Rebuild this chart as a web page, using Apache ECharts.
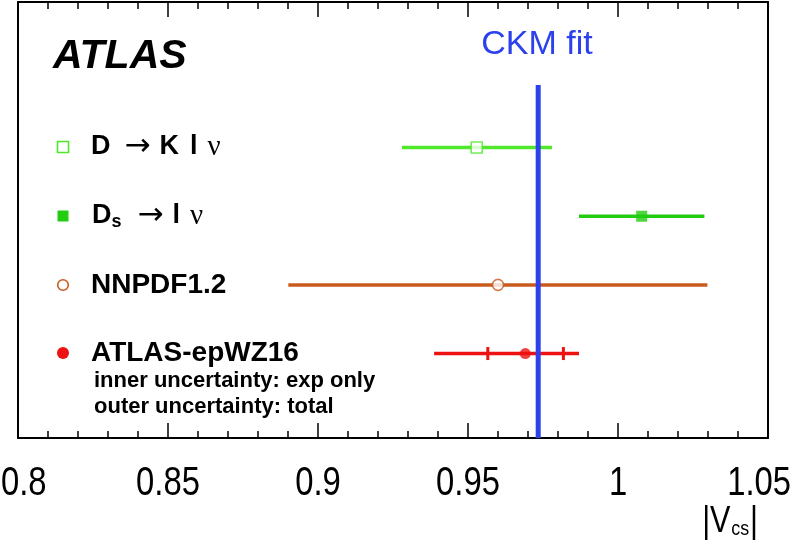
<!DOCTYPE html>
<html>
<head>
<meta charset="utf-8">
<script src="https://cdn.jsdelivr.net/npm/echarts@6/dist/echarts.min.js"></script>
<style>html,body{margin:0;padding:0;background:#fff}#c{width:796px;height:544px}</style>
</head>
<body>
<div id="c"></div>
<script>
// ---- data ----
const measurements = ['D → K l ν', 'Ds → l ν', 'NNPDF1.2', 'ATLAS-epWZ16'];
const rowPos = [4, 3, 2, 1];
const central = [0.9529, 1.0079, 0.9600, 0.9691];
const totalLow = [0.9280, 0.9870, 0.8901, 0.9387];
const totalHigh = [0.9780, 1.0288, 1.0298, 0.9870];
const innerLow = [null, null, null, 0.9566];
const innerHigh = [null, null, null, 0.9818];
const ckmValue = 0.9734;
const xTickValues = [0.8, 0.85, 0.9, 0.95, 1, 1.05];
const xTickLabels = ['0.8', '0.85', '0.9', '0.95', '1', '1.05'];

const colors = ['#4fe82a', '#22cc11', '#c85a1e', '#ee1111'];
const symbols = ['rect', 'rect', 'circle', 'circle'];
const filled = [false, true, false, true];
const CKM_COLOR = '#2c40ee';
const Y_MIN = -0.23, Y_MAX = 6.12, CKM_TOP = 4.91;

const chart = echarts.init(document.getElementById('c'), null, {renderer: 'canvas'});

const barData = measurements.map((m, i) => ({
  value: [totalLow[i], totalHigh[i], rowPos[i], innerLow[i], innerHigh[i]],
  itemStyle: {color: colors[i]}
}));

const pointData = measurements.map((m, i) => ({
  value: [central[i], rowPos[i]],
  symbol: symbols[i],
  symbolSize: 11,
  itemStyle: filled[i]
    ? {color: colors[i], borderWidth: 0}
    : {color: '#ffffff', borderColor: colors[i], borderWidth: 1.6}
}));

const axisCommon = {
  type: 'value', min: 0.8, max: 1.05, interval: 0.05,
  axisLine: {show: true, onZero: false, lineStyle: {color: '#000', width: 2}},
  axisTick: {show: true, inside: true, length: 15, lineStyle: {color: '#000', width: 1.5}},
  minorTick: {show: true, splitNumber: 5, length: 7, lineStyle: {color: '#000', width: 1.5}},
  splitLine: {show: false}, minorSplitLine: {show: false},
  axisLabel: {show: false}
};

const font = 'Liberation Sans, Arial, sans-serif';

chart.setOption({
  animation: false,
  backgroundColor: '#fff',
  grid: {left: 18, right: 28, top: 2, bottom: 106, show: false, containLabel: false, outerBoundsMode: 'none'},
  xAxis: [
    Object.assign({}, axisCommon, {position: 'bottom'}),
    Object.assign({}, axisCommon, {position: 'top'})
  ],
  yAxis: [
    {type: 'value', min: Y_MIN, max: Y_MAX, position: 'left',
     axisLine: {show: true, lineStyle: {color: '#000', width: 2}},
     axisTick: {show: false}, axisLabel: {show: false}, splitLine: {show: false}},
    {type: 'value', min: Y_MIN, max: Y_MAX, position: 'right',
     axisLine: {show: true, lineStyle: {color: '#000', width: 2}},
     axisTick: {show: false}, axisLabel: {show: false}, splitLine: {show: false}}
  ],
  series: [
    {
      type: 'custom', xAxisIndex: 0, yAxisIndex: 0, z: 2,
      data: barData,
      renderItem: function (params, api) {
        const lo = api.coord([api.value(0), api.value(2)]);
        const hi = api.coord([api.value(1), api.value(2)]);
        const col = api.visual('color');
        const children = [{
          type: 'line',
          shape: {x1: lo[0], y1: lo[1], x2: hi[0], y2: hi[1]},
          style: {stroke: col, lineWidth: 3.5}
        }];
        const il = api.value(3), ih = api.value(4);
        [il, ih].forEach(v => {
          if (v !== null && v !== undefined && !isNaN(v)) {
            const p = api.coord([v, api.value(2)]);
            children.push({
              type: 'line',
              shape: {x1: p[0], y1: p[1] - 6.5, x2: p[0], y2: p[1] + 6.5},
              style: {stroke: col, lineWidth: 3}
            });
          }
        });
        return {type: 'group', children: children};
      }
    },
    {
      type: 'scatter', xAxisIndex: 0, yAxisIndex: 0, z: 3,
      data: pointData
    },
    {
      type: 'line', xAxisIndex: 0, yAxisIndex: 0, z: 4,
      symbol: 'none',
      data: [[ckmValue, Y_MIN], [ckmValue, CKM_TOP]],
      lineStyle: {color: CKM_COLOR, width: 5}
    }
  ]
});

// tick labels placed through the axis scale (narrow, like the original font),
// edge labels kept inside the canvas
const LABEL_FONT = '40px ' + font;
const LABEL_SCALE = 0.82;
const measureCtx = document.createElement('canvas').getContext('2d');
measureCtx.font = LABEL_FONT;
const tickLabelY = chart.convertToPixel({yAxisIndex: 0}, Y_MIN) + 46;
const tickLabelGraphics = xTickValues.map((v, i) => {
  const w = measureCtx.measureText(xTickLabels[i]).width * LABEL_SCALE;
  let cx = chart.convertToPixel({xAxisIndex: 0}, v);
  cx = Math.min(Math.max(cx, w / 2 + 1), 796 - 5 - w / 2);
  return {
    type: 'text', z: 10, x: cx, y: tickLabelY, scaleX: LABEL_SCALE,
    style: {text: xTickLabels[i], font: LABEL_FONT, fill: '#000', align: 'center', verticalAlign: 'middle'}
  };
});

chart.setOption({
  graphic: [
    {type: 'text', left: 53, top: 36, z: 10,
     style: {text: 'ATLAS', font: 'italic bold 41px ' + font, fill: '#000'}},
    {type: 'text', x: 537, y: 45, z: 10,
     style: {text: 'CKM fit', font: '34px ' + font, fill: CKM_COLOR, align: 'center', verticalAlign: 'middle'}},
    // legend markers
    {type: 'rect', z: 10, shape: {x: 57.5, y: 141.5, width: 11, height: 11},
     style: {fill: '#fff', stroke: colors[0], lineWidth: 1.6}},
    {type: 'rect', z: 10, shape: {x: 57.5, y: 210.5, width: 11, height: 11},
     style: {fill: colors[1]}},
    {type: 'circle', z: 10, shape: {cx: 63, cy: 285, r: 5.3},
     style: {fill: '#fff', stroke: colors[2], lineWidth: 1.6}},
    {type: 'circle', z: 10, shape: {cx: 63, cy: 353, r: 6},
     style: {fill: colors[3]}},
    // legend texts
    {type: 'text', x: 91, y: 147, z: 10,
     style: {
       text: '{b|D}{a|→}{b|K}{g|l}{n|ν}',
       verticalAlign: 'middle',
       rich: {
         b: {font: 'bold 27px ' + font, fill: '#000'},
         g: {font: 'bold 27px ' + font, fill: '#000', padding: [0, 0, 0, 11]},
         a: {font: '31px DejaVu Sans, sans-serif', fill: '#000', padding: [0, 9, 0, 14]},
         n: {font: '29px Liberation Serif, DejaVu Serif, serif', fill: '#000', padding: [0, 0, 0, 10]}
       }
     }},
    {type: 'text', x: 92, y: 216, z: 10,
     style: {
       text: '{b|D}{sub|s}{a|→}{b|l}{n|ν}',
       verticalAlign: 'middle',
       rich: {
         b: {font: 'bold 27px ' + font, fill: '#000', lineHeight: 30, verticalAlign: 'middle'},
         sub: {font: 'bold 18px ' + font, fill: '#000', padding: [12, 0, 0, 0], verticalAlign: 'bottom'},
         a: {font: '31px DejaVu Sans, sans-serif', fill: '#000', padding: [0, 9, 0, 16]},
         n: {font: '29px Liberation Serif, DejaVu Serif, serif', fill: '#000', padding: [0, 0, 0, 10]}
       }
     }},
    {type: 'text', x: 91, y: 285, z: 10,
     style: {text: measurements[2], font: 'bold 28px ' + font, fill: '#000', verticalAlign: 'middle'}},
    {type: 'text', x: 91, y: 353, z: 10,
     style: {text: measurements[3], font: 'bold 28px ' + font, fill: '#000', verticalAlign: 'middle'}},
    {type: 'text', x: 94, y: 381, z: 10,
     style: {text: 'inner uncertainty: exp only', font: 'bold 22px ' + font, fill: '#000', verticalAlign: 'middle'}},
    {type: 'text', x: 94, y: 407, z: 10,
     style: {text: 'outer uncertainty: total', font: 'bold 22px ' + font, fill: '#000', verticalAlign: 'middle'}},
    // axis title |V_cs|
    {type: 'text', x: 758, y: 540, z: 10, scaleX: 0.85,
     style: {
       text: '{m||V}{sub|cs}{m||}',
       align: 'right', verticalAlign: 'bottom',
       rich: {
         m: {font: '36px ' + font, fill: '#000', verticalAlign: 'bottom', lineHeight: 36},
         sub: {font: '21px ' + font, fill: '#000', verticalAlign: 'bottom', lineHeight: 20, padding: [0, 1, 0, 1]}
       }
     }}
  ].concat(tickLabelGraphics)
});
</script>
</body>
</html>
